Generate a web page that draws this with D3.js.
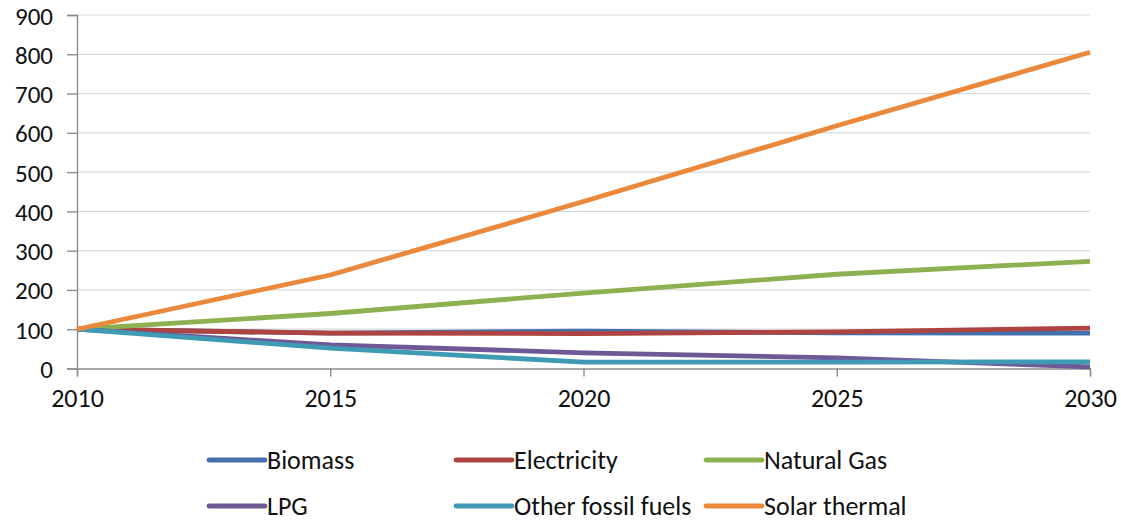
<!DOCTYPE html>
<html>
<head>
<meta charset="utf-8">
<script src="https://cdn.jsdelivr.net/npm/d3@7"></script>
<style>
  html, body { margin: 0; padding: 0; background: #fff; }
  svg text { font-family: Carlito, Lato, sans-serif; fill: #111; }
</style>
</head>
<body>
<svg id="chart" width="1121" height="521"></svg>
<script>
// Index values (2010 = 100) by fuel
const years = [2010, 2015, 2020, 2025, 2030];
const biomass = [100, 90, 95, 91, 90];
const electricity = [100, 90, 89, 93, 103];
const naturalGas = [100, 140, 192, 240, 273];
const lpg = [100, 60, 40, 27, 4];
const otherFossil = [100, 52, 16, 16, 17];
const solarThermal = [100, 238, 425, 618, 805];
const yTicks = [0, 100, 200, 300, 400, 500, 600, 700, 800, 900];

const series = [
  { name: "Biomass", values: biomass, color: "#4371AD" },
  { name: "Electricity", values: electricity, color: "#AE4442" },
  { name: "Natural Gas", values: naturalGas, color: "#8DB050" },
  { name: "LPG", values: lpg, color: "#6F5896" },
  { name: "Other fossil fuels", values: otherFossil, color: "#3F9BB4" },
  { name: "Solar thermal", values: solarThermal, color: "#EA883B" }
];

const svg = d3.select("#chart");
const x = d3.scaleLinear().domain([2010, 2030]).range([77, 1090]);
const y = d3.scaleLinear().domain([0, 900]).range([368.5, 15]);

// horizontal gridlines
svg.append("g")
  .selectAll("line")
  .data(yTicks.filter(d => d > 0))
  .join("line")
  .attr("x1", x(2010)).attr("x2", x(2030))
  .attr("y1", d => y(d)).attr("y2", d => y(d))
  .attr("stroke", "#D9D9D9").attr("stroke-width", 1.2);

// y axis
const yAxis = svg.append("g")
  .attr("transform", `translate(${x(2010)},0)`)
  .call(d3.axisLeft(y).tickValues(yTicks).tickSize(10).tickPadding(14).tickFormat(d3.format("d")));
yAxis.attr("font-family", null).attr("font-size", null);
yAxis.select(".domain").attr("stroke", "#8C8C8C").attr("stroke-width", 1.4);
yAxis.selectAll(".tick line").attr("stroke", "#8C8C8C").attr("stroke-width", 1.4);
yAxis.selectAll(".tick text").style("font-size", "25px").attr("dy", "0.36em");

// x axis
const xAxis = svg.append("g")
  .attr("transform", `translate(0,${y(0)})`)
  .call(d3.axisBottom(x).tickValues(years).tickSize(8).tickPadding(12).tickFormat(d3.format("d")));
xAxis.attr("font-family", null).attr("font-size", null);
xAxis.select(".domain").attr("stroke", "#8C8C8C").attr("stroke-width", 1.4);
xAxis.selectAll(".tick line").attr("stroke", "#8C8C8C").attr("stroke-width", 1.4);
xAxis.selectAll(".tick text").style("font-size", "26px");

// series lines
const line = d3.line().x((d, i) => x(years[i])).y(d => y(d));
svg.append("g")
  .selectAll("path")
  .data(series)
  .join("path")
  .attr("d", d => line(d.values))
  .attr("fill", "none")
  .attr("stroke", d => d.color)
  .attr("stroke-width", 4.8)
  .attr("stroke-linejoin", "round");

// legend
const legendPos = [
  [209, 460], [456, 460], [706, 460],
  [209, 506], [456, 506], [706, 506]
];
const legend = svg.append("g")
  .selectAll("g")
  .data(series)
  .join("g")
  .attr("transform", (d, i) => `translate(${legendPos[i][0]},${legendPos[i][1]})`);
legend.append("line")
  .attr("x1", 0).attr("x2", 56)
  .attr("stroke", d => d.color)
  .attr("stroke-width", 4.8)
  .attr("stroke-linecap", "round");
legend.append("text")
  .attr("x", 58)
  .attr("dy", "0.36em")
  .style("font-size", "26px")
  .text(d => d.name);
</script>
</body>
</html>
